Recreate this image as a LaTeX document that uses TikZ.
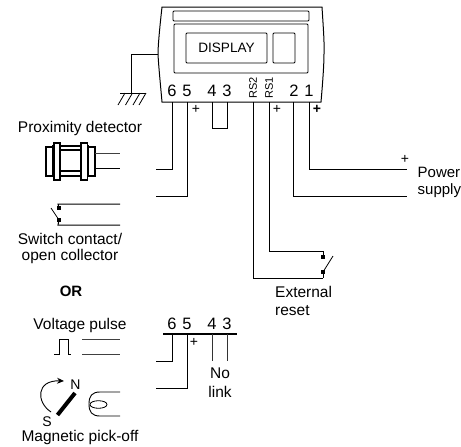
\documentclass[tikz,border=0pt]{standalone}
\usepackage{fontspec}
\usetikzlibrary{arrows.meta}
\setmainfont{Liberation Sans}
\begin{document}
\begin{tikzpicture}[x=1pt,y=-1pt,
  wire/.style={line width=1pt,black},
  thin wire/.style={line width=0.8pt,black!80},
  lbl/.style={inner sep=0pt,font=\fontsize{15.5}{17}\selectfont},
  tight/.style={inner sep=0pt,font=\fontsize{14}{14}\selectfont},
  num/.style={inner sep=0pt,font=\fontsize{16.5}{18}\selectfont},
  small/.style={inner sep=0pt,font=\fontsize{11}{12}\selectfont},
  plus/.style={inner sep=0pt,font=\fontsize{14}{14}\selectfont},
  panel/.style={draw,line width=0.9pt,rounded corners=1pt},
  contact/.style={fill=black,minimum size=3.6pt,inner sep=0pt,draw=none,rectangle},
  prox/.style={draw,line width=1.2pt,fill=white}]
\useasboundingbox (0,0) rectangle (461,447);
\clip (0,0) rectangle (461,447);
% case
\draw[wire] (162,7) -- (322,7) .. controls (323.5,30) and (324.5,45) .. (324,54) .. controls (324,65) and (322.5,85) .. (321,102)
  -- (162,102) .. controls (160.5,85) and (158.5,65) .. (158,54) .. controls (158,45) and (160,25) .. (162,7) -- cycle;
\node[panel,minimum width=136pt,minimum height=10pt,inner sep=0pt] (slot) at (241,16) {};
\node[panel,minimum width=134pt,minimum height=49pt,inner sep=0pt] (inner) at (241,48.5) {};
\node[panel,minimum width=81pt,minimum height=30pt,inner sep=0pt,font=\fontsize{13.6}{15}\selectfont] (display) at (226.5,48) {DISPLAY};
\node[panel,minimum width=22pt,minimum height=30pt,inner sep=0pt] (unit) at (284,48) {};
% ground
\coordinate (caseleft) at (158,54);
\coordinate (gndtop) at (131,54);
\coordinate (gnd) at (131,93);
\draw[wire] (caseleft) -- (gndtop) -- (gnd);
\draw[wire] (120,93) -- (146,93);
\foreach \x in {125,132.5,140,146}{\draw[line width=0.8pt] (\x,93) -- (\x-7,105);}
% terminal labels
\node[num] (t6) at (172,91) {6};
\node[num] (t5) at (187,91) {5};
\node[num] (t4) at (212,91) {4};
\node[num] (t3) at (227,91) {3};
\node[small,rotate=90] (trs2) at (253,88) {RS2};
\node[small,rotate=90] (trs1) at (269,88) {RS1};
\node[num] (t2) at (294,91) {2};
\node[num] (t1) at (309,91) {1};
% coordinates for wires
\coordinate (w6) at (172,102); \coordinate (w6b) at (172,169); \coordinate (w6e) at (156,169);
\coordinate (w5) at (187,102); \coordinate (w5b) at (187,196); \coordinate (w5e) at (156,196);
\coordinate (w4) at (212,102); \coordinate (w4b) at (212,128);
\coordinate (w3) at (227,102); \coordinate (w3b) at (227,128);
\coordinate (wr2) at (253,102); \coordinate (wr2b) at (253,278); \coordinate (sw2) at (323,278);
\coordinate (wr1) at (269,102); \coordinate (wr1b) at (269,251); \coordinate (sw1) at (323,251);
\coordinate (w2) at (293.5,102); \coordinate (w2b) at (293.5,196); \coordinate (w2e) at (407,196);
\coordinate (w1) at (309.5,102); \coordinate (w1b) at (309.5,169); \coordinate (w1e) at (407,169);
\draw[wire] (w6) -- (w6b) -- (w6e);
\draw[wire] (w5) -- (w5b) -- (w5e);
\draw[wire] (w4) -- (w4b) -- (w3b) -- (w3);
\draw[wire] (wr2) -- (wr2b) -- (sw2);
\draw[wire] (wr1) -- (wr1b) -- (sw1);
\draw[wire] (w2) -- (w2b) -- (w2e);
\draw[wire] (w1) -- (w1b) -- (w1e);
\node[plus] (p5) at (196,109) {+};
\node[plus] (prs) at (277,109) {+};
\node[plus,font=\fontsize{14}{14}\bfseries\selectfont] (p1) at (317,109) {+};
\node[plus] (pp) at (405,159) {+};
% reset switch
\node[contact] (c1) at (323,257) {};
\node[contact] (c2) at (323,272) {};
\draw[wire] (sw1) -- (c1);
\draw[wire] (c2) -- (sw2);
\draw[line width=0.8pt] (c2.center) -- (333,256);
\node[lbl,anchor=west] (ext) at (275,292) {External};
\node[lbl,anchor=west] (rst) at (275,311) {reset};
\node[lbl,anchor=west,font=\fontsize{15}{17}\selectfont] (pow) at (417.5,172) {Power};
\node[lbl,anchor=west,font=\fontsize{15}{17}\selectfont] (sup) at (417.5,191) {supply};
% proximity detector
\node[lbl] (proxl) at (80,128) {Proximity detector};
\draw[prox] (46,147) rectangle (53,176);
\draw[prox] (88,147) rectangle (95,176);
\draw[prox] (53,146) rectangle (88,150);
\draw[prox] (53,171) rectangle (88,176);
\draw[prox] (54,143) rectangle (60,180);
\draw[prox] (81,143) rectangle (87.5,180);
\coordinate (pa) at (95,153.5); \coordinate (pb) at (95,168);
\coordinate (pae) at (120,153.5); \coordinate (pbe) at (120,168);
\draw[wire,black!75] (pa) -- (pae);
\draw[wire] (pb) -- (pbe);
% switch contact
\node[contact] (s1) at (59,208) {};
\node[contact] (s2) at (59,220) {};
\coordinate (s1t) at (58,204); \coordinate (s1e) at (120,204);
\coordinate (s2t) at (58,225); \coordinate (s2e) at (120,225);
\draw[wire] (s1) -- (s1t) -- (s1e);
\draw[wire] (s2) -- (s2t) -- (s2e);
\draw[line width=0.8pt] (51,208) -- (s2.center);
\node[lbl] (swl) at (70,239) {Switch contact/};
\node[lbl] (swm) at (70,256) {open collector};
\node[lbl,font=\fontsize{15}{17}\bfseries\selectfont] (or) at (71,291) {OR};
% voltage pulse
\node[lbl] (vp) at (80,325) {Voltage pulse};
\draw[line width=0.8pt] (54,354) -- (59,354) -- (59,339) -- (68,339) -- (68,354) -- (71,354);
\draw[wire,black!75] (82,339) -- (120,339);
\draw[wire,black!75] (82,354) -- (120,354);
% lower terminals
\node[num] (b6) at (172,324) {6};
\node[num] (b5) at (187,324) {5};
\node[num] (b4) at (212,324) {4};
\node[num] (b3) at (227,324) {3};
\coordinate (bl) at (163,334); \coordinate (br) at (237,334);
\draw[line width=1.2pt] (bl) -- (br);
\coordinate (b6t) at (172,334); \coordinate (b6b) at (172,361); \coordinate (b6e) at (156,361);
\coordinate (b5t) at (187,334); \coordinate (b5b) at (187,388); \coordinate (b5e) at (156,388);
\coordinate (b4t) at (212,334); \coordinate (b4b) at (212,361);
\coordinate (b3t) at (227,334); \coordinate (b3b) at (227,361);
\draw[wire] (b6t) -- (b6b) -- (b6e);
\draw[wire] (b5t) -- (b5b) -- (b5e);
\draw[thin wire] (b4t) -- (b4b);
\draw[thin wire] (b3t) -- (b3b);
\node[plus] (bp) at (194,342) {+};
\node[lbl] (no) at (220,373) {No};
\node[lbl] (lk) at (220,392) {link};
% magnetic
\draw[line width=4pt] (57.5,415) -- (75,393);
\draw[line width=0.9pt,-{Stealth[length=7pt,width=6pt]}] (51,412) .. controls (36,402) and (36,380) .. (64,381);
\node[tight] (n) at (75.5,385) {N};
\node[tight] (s) at (47,422) {S};
\draw[line width=0.9pt] (120,392) -- (100,392) .. controls (92,392) and (89,396) .. (89,404) .. controls (89,412) and (92,416) .. (100,416) -- (120,416);
\draw[line width=0.8pt] (98.5,404.5) ellipse (8.5pt and 3.8pt);
\node[lbl] (mag) at (80,437.5) {Magnetic pick-off};
\end{tikzpicture}
\end{document}
